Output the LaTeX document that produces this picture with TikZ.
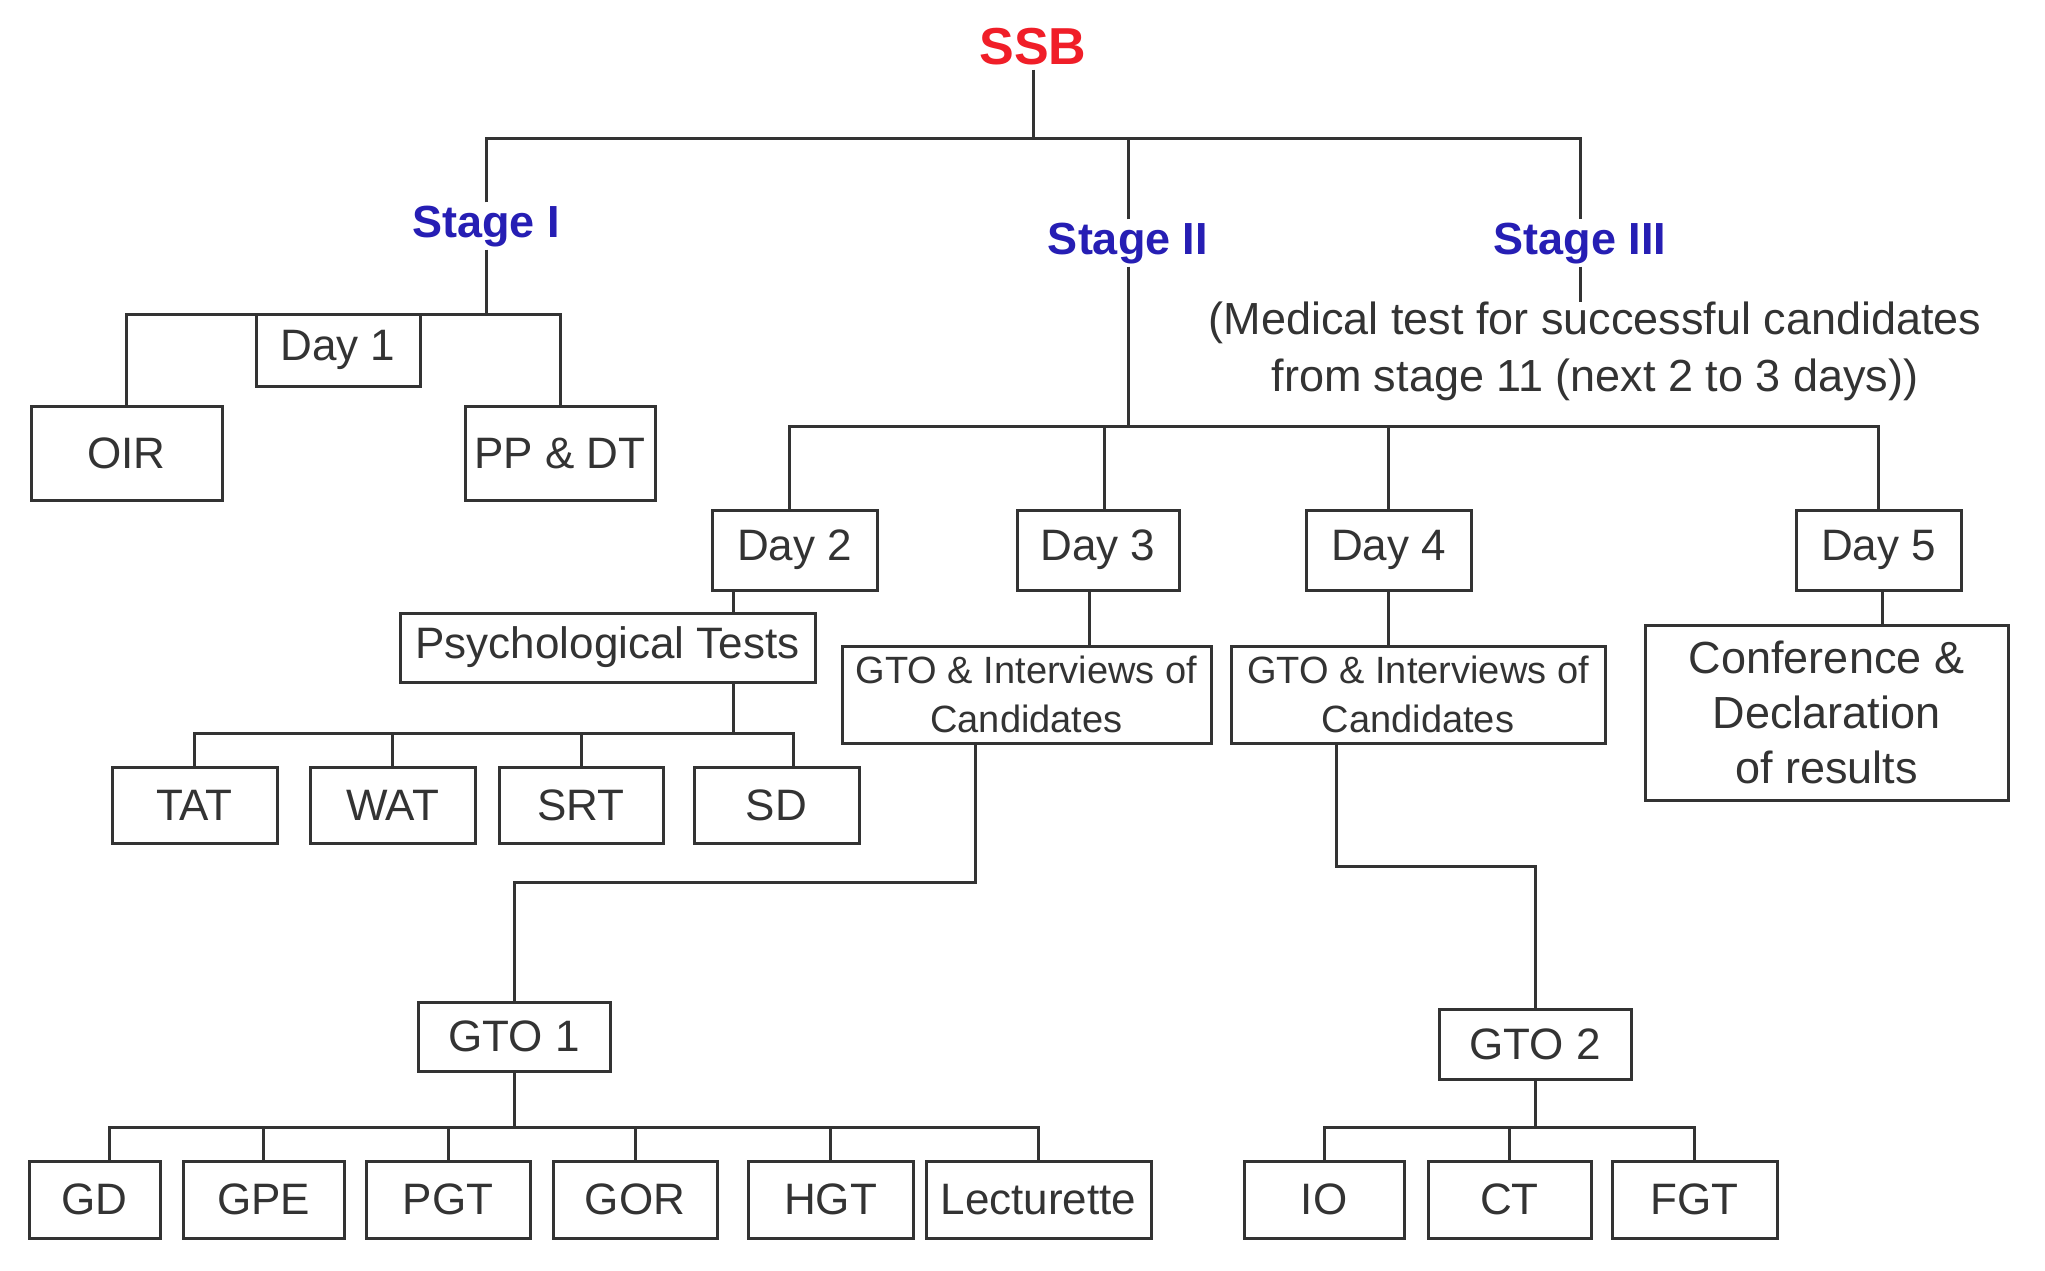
\documentclass[tikz,border=0pt]{standalone}
\usepackage{fontspec}
\setmainfont{Liberation Sans}
\usetikzlibrary{calc}
\definecolor{ssbred}{RGB}{240,30,40}
\definecolor{stageblue}{RGB}{38,30,180}
\definecolor{ink}{RGB}{51,51,51}
\tikzset{
  lnk/.style={draw=ink, line width=3pt},
  bx/.style={draw=ink, line width=3pt, inner sep=0pt, text=ink, font=\fontsize{44}{53}\selectfont, align=center},
  gtobox/.style={bx, font=\fontsize{38}{49}\selectfont},
  stagelbl/.style={text=stageblue, font=\fontsize{45}{54}\selectfont\bfseries, inner sep=3pt, anchor=base},
}
\begin{document}
\begin{tikzpicture}[x=1pt, y=-1pt]
\useasboundingbox[fill=white] (0,0) rectangle (2045,1271);

% titles
\node[text=ssbred, font=\fontsize{52}{60}\selectfont\bfseries, inner sep=4pt] (ssb) at (1033,47) {SSB};
\node[stagelbl] (s1) at (486,237) {Stage I};
\node[stagelbl] (s2) at (1128,254) {Stage II};
\node[stagelbl] (s3) at (1580,254) {Stage III};
\node[text=ink, font=\fontsize{45}{57}\selectfont, align=center, anchor=north, inner sep=0pt] (med) at (1595,302)
  {(Medical test for successful candidates\\from stage 11 (next 2 to 3 days))};

% Stage I boxes
\node[bx, minimum width=164pt, minimum height=72pt] (day1) at (338,350) {Day 1};
\node[bx, minimum width=191pt, minimum height=94pt] (oir) at (126.5,453) {OIR};
\node[bx, minimum width=190pt, minimum height=94pt] (ppdt) at (560,453) {PP \& DT};

% Days
\node[bx, minimum width=165pt, minimum height=80pt] (day2) at (794.5,550) {Day 2};
\node[bx, minimum width=162pt, minimum height=80pt] (day3) at (1098,550) {Day 3};
\node[bx, minimum width=165pt, minimum height=80pt] (day4) at (1388.5,550) {Day 4};
\node[bx, minimum width=165pt, minimum height=80pt] (day5) at (1878.5,550) {Day 5};

\node[bx, minimum width=415pt, minimum height=69pt] (psych) at (607.5,647.5) {Psychological Tests};
\node[gtobox, minimum width=369pt, minimum height=97pt] (gtoa) at (1026.5,694.5) {GTO \& Interviews of\\Candidates};
\node[gtobox, minimum width=374pt, minimum height=97pt] (gtob) at (1418,694.5) {GTO \& Interviews of\\Candidates};
\node[bx, font=\fontsize{45}{55}\selectfont, minimum width=363pt, minimum height=175pt] (conf) at (1826.5,712.5) {Conference \&\\Declaration\\of results};

% psychological tests
\node[bx, minimum width=165pt, minimum height=76pt] (tat) at (194.5,805) {TAT};
\node[bx, minimum width=165pt, minimum height=76pt] (wat) at (392.5,805) {WAT};
\node[bx, minimum width=164pt, minimum height=76pt] (srt) at (581,805) {SRT};
\node[bx, minimum width=165pt, minimum height=76pt] (sd) at (776.5,805) {SD};

% GTO
\node[bx, minimum width=192pt, minimum height=69pt] (gto1) at (514,1036.5) {GTO 1};
\node[bx, minimum width=192pt, minimum height=70pt] (gto2) at (1535,1044) {GTO 2};

\node[bx, minimum width=131pt, minimum height=77pt] (gd) at (94.5,1199.5) {GD};
\node[bx, minimum width=161pt, minimum height=77pt] (gpe) at (263.5,1199.5) {GPE};
\node[bx, minimum width=164pt, minimum height=77pt] (pgt) at (448,1199.5) {PGT};
\node[bx, minimum width=164pt, minimum height=77pt] (gor) at (635,1199.5) {GOR};
\node[bx, minimum width=165pt, minimum height=77pt] (hgt) at (830.5,1199.5) {HGT};
\node[bx, minimum width=225pt, minimum height=77pt] (lect) at (1038.5,1199.5) {Lecturette};

\node[bx, minimum width=160pt, minimum height=77pt] (io) at (1324,1199.5) {IO};
\node[bx, minimum width=163pt, minimum height=77pt] (ct) at (1509.5,1199.5) {CT};
\node[bx, minimum width=165pt, minimum height=77pt] (fgt) at (1694.5,1199.5) {FGT};

% bus levels and junction x positions
\coordinate (b0) at (0,139);
\coordinate (b1) at (0,314);
\coordinate (b2) at (0,426);
\coordinate (b3) at (0,733);
\coordinate (b4) at (0,882);
\coordinate (b5) at (0,866);
\coordinate (b6) at (0,1127);
\coordinate (xd2top) at (789,0);
\coordinate (xd3top) at (1104,0);
\coordinate (xpsy) at (733,0);
\coordinate (xsd) at (793,0);
\coordinate (xd3) at (1089,0);
\coordinate (xga) at (975,0);
\coordinate (xgb) at (1336,0);
\coordinate (xd5) at (1882,0);
\coordinate (xgd) at (109,0);

% SSB tree
\draw[lnk] (ssb.south) -- (ssb.south |- b0);
\draw[lnk] (s1.north) -- (s1.north |- b0) -- (s3.north |- b0) -- (s3.north);
\draw[lnk] (s2.north) -- (s2.north |- b0);

% Stage I
\draw[lnk] (s1.south) -- (s1.south |- b1);
\draw[lnk] (oir.north) -- (oir.north |- b1) -- (ppdt.north |- b1) -- (ppdt.north);

% Stage II
\draw[lnk] (s2.south) -- (s2.south |- b2);
\draw[lnk] (day2.north -| xd2top) -- (xd2top |- b2) -- (day5.north |- b2) -- (day5.north);
\draw[lnk] (day3.north -| xd3top) -- (xd3top |- b2);
\draw[lnk] (day4.north) -- (day4.north |- b2);

% Stage III
\draw[lnk] (s3.south) -- (med.north -| s3.south);

% Day 2
\draw[lnk] (day2.south -| xpsy) -- (psych.north -| xpsy);
\draw[lnk] (psych.south -| xpsy) -- (xpsy |- b3);
\draw[lnk] (tat.north) -- (tat.north |- b3) -- (xsd |- b3) -- (sd.north -| xsd);
\draw[lnk] (wat.north) -- (wat.north |- b3);
\draw[lnk] (srt.north) -- (srt.north |- b3);

% Day 3
\draw[lnk] (day3.south -| xd3) -- (gtoa.north -| xd3);
\draw[lnk] (gtoa.south -| xga) -- (xga |- b4) -- (gto1.north |- b4) -- (gto1.north);

% Day 4
\draw[lnk] (day4.south) -- (gtob.north -| day4.south);
\draw[lnk] (gtob.south -| xgb) -- (xgb |- b5) -- (gto2.north |- b5) -- (gto2.north);

% Day 5
\draw[lnk] (day5.south -| xd5) -- (conf.north -| xd5);

% GTO 1
\draw[lnk] (gto1.south) -- (gto1.south |- b6);
\draw[lnk] (gd.north -| xgd) -- (xgd |- b6) -- (lect.north |- b6) -- (lect.north);
\draw[lnk] (gpe.north) -- (gpe.north |- b6);
\draw[lnk] (pgt.north) -- (pgt.north |- b6);
\draw[lnk] (gor.north) -- (gor.north |- b6);
\draw[lnk] (hgt.north) -- (hgt.north |- b6);

% GTO 2
\draw[lnk] (gto2.south) -- (gto2.south |- b6);
\draw[lnk] (io.north) -- (io.north |- b6) -- (fgt.north |- b6) -- (fgt.north);
\draw[lnk] (ct.north) -- (ct.north |- b6);
\end{tikzpicture}
\end{document}
